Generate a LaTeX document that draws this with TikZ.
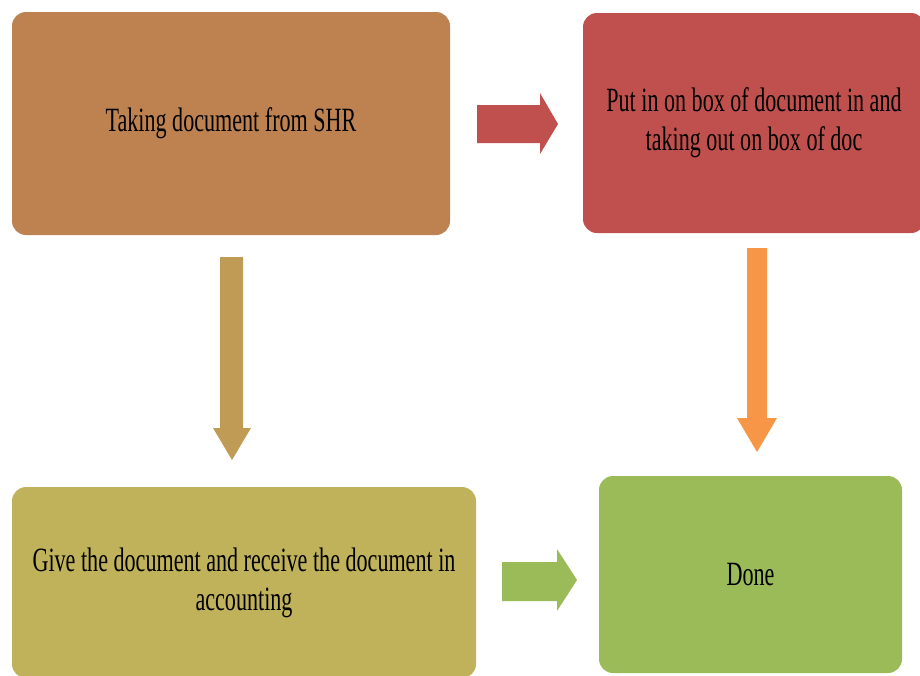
\documentclass[tikz,border=0pt]{standalone}
\usepackage{fontspec}
\setmainfont{Liberation Serif}[FakeStretch=0.65]
\definecolor{cbrown}{HTML}{BE8250}
\definecolor{cred}{HTML}{C0504D}
\definecolor{colive}{HTML}{BFB25A}
\definecolor{cgreen}{HTML}{9BBB59}
\definecolor{ctan}{HTML}{BF9B55}
\definecolor{corange}{HTML}{F79646}
\tikzset{
  box/.style={rounded corners=14pt, inner sep=0pt, align=center,
    font=\fontsize{34}{39}\selectfont, text=black},
  blockarrow/.style={draw=none}
}
\begin{document}
\begin{tikzpicture}[x=1pt,y=-1pt]
\useasboundingbox (0,0) rectangle (920,675);
\node[box, fill=cbrown, minimum width=438pt, minimum height=223pt] (b1) at (231,123.5) {Taking document from SHR};
\node[box, fill=cred, minimum width=342pt, minimum height=220pt] (b2) at (754,123) {Put in on box of document in and\\taking out on box of doc};
\node[box, fill=colive, minimum width=464pt, minimum height=191pt] (b3) at (244,582.5) {Give the document and receive the document in\\accounting};
\node[box, fill=cgreen, minimum width=303pt, minimum height=197pt] (b4) at (750.5,574.5) {Done};
% right arrow b1 -> b2
\fill[cred] (477,105) -- (540,105) -- (540,93) -- (558,124) -- (540,154) -- (540,143) -- (477,143) -- cycle;
% down arrow b1 -> b3
\fill[ctan] (220,257) -- (243,257) -- (243,428) -- (251,428) -- (232,460) -- (213,428) -- (220,428) -- cycle;
% down arrow b2 -> b4
\fill[corange] (747,248) -- (767,248) -- (767,418) -- (777,418) -- (757,452) -- (737,418) -- (747,418) -- cycle;
% right arrow b3 -> b4
\fill[cgreen] (502,562) -- (557,562) -- (557,549) -- (577,580) -- (557,611) -- (557,601) -- (502,601) -- cycle;
\end{tikzpicture}
\end{document}
